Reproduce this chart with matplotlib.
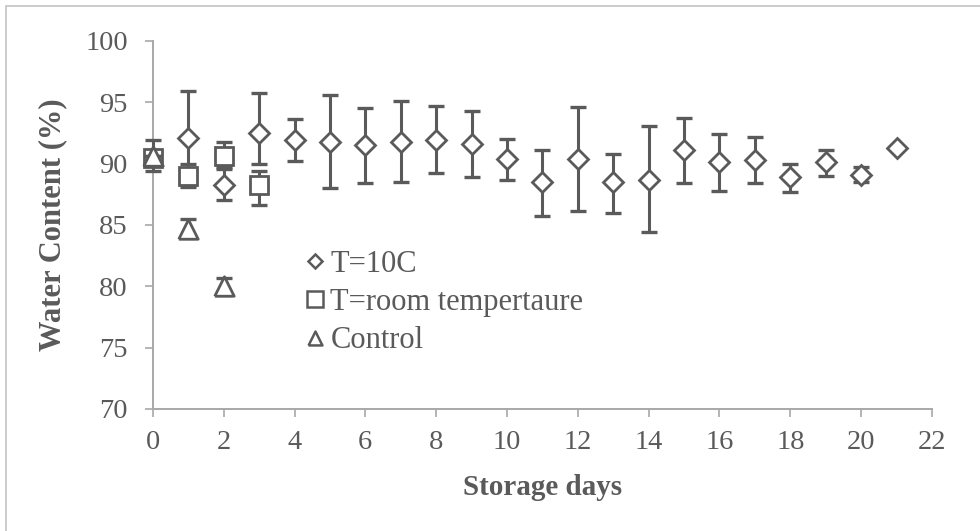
import matplotlib
matplotlib.use("Agg")
import matplotlib.pyplot as plt
from matplotlib.lines import Line2D
from matplotlib.patches import Rectangle

# T=10C series (diamonds)
days_10c = [1, 2, 3, 4, 5, 6, 7, 8, 9, 10, 11, 12, 13, 14, 15, 16, 17, 18, 19, 20, 21]
wc_10c = [92.1, 88.3, 92.5, 91.9, 91.8, 91.5, 91.8, 91.9, 91.6, 90.4, 88.5, 90.4,
          88.5, 88.7, 91.1, 90.1, 90.3, 88.9, 90.1, 89.1, 91.3]
hi_10c = [95.9, 89.6, 95.8, 93.6, 95.6, 94.5, 95.1, 94.7, 94.3, 92.0, 91.1, 94.6,
          90.8, 93.1, 93.7, 92.4, 92.2, 90.0, 91.1, 89.7, 91.3]
lo_10c = [88.3, 87.0, 90.0, 90.2, 88.0, 88.4, 88.5, 89.2, 88.9, 88.7, 85.7, 86.1,
          86.0, 84.4, 88.4, 87.8, 88.4, 87.7, 89.0, 88.5, 91.3]

# T=room temperature series (squares)
days_room = [0, 1, 2, 3]
wc_room = [90.5, 89.0, 90.6, 88.3]
hi_room = [91.9, 90.0, 91.8, 89.4]
lo_room = [89.4, 88.1, 89.7, 86.6]

# Control series (triangles)
days_ctrl = [0, 1, 2]
wc_ctrl = [90.6, 84.7, 80.0]
hi_ctrl = [90.6, 85.5, 80.7]
lo_ctrl = [90.6, 83.9, 79.3]

x_ticks = [0, 2, 4, 6, 8, 10, 12, 14, 16, 18, 20, 22]
y_ticks = [70, 75, 80, 85, 90, 95, 100]

gray = "#5a5a5a"
bg = "white"
tri = [(-1, -1), (1, -1), (0, 1), (-1, -1)]

plt.rcParams["font.family"] = ["Liberation Serif", "DejaVu Serif"]

fig = plt.figure(figsize=(9.8, 5.31), dpi=100, facecolor=bg)
ax = fig.add_axes([0.156, 0.2298, 0.795, 0.693], facecolor=bg)

# outer chart-area border
fig.patches.append(Rectangle((6 / 980, -0.02), 1.02, 1 - 6 / 531 + 0.02,
                             transform=fig.transFigure, fill=False,
                             edgecolor="#c4c4c4", linewidth=1.2))


def series(x, y, hi, lo, marker, ms, z):
    err = [[v - l for v, l in zip(y, lo)], [h - v for v, h in zip(y, hi)]]
    bars = ax.errorbar(x, y, yerr=err, fmt="none", ecolor=gray, elinewidth=2.2,
                       capsize=6, capthick=2.4, zorder=z)
    for art in bars.lines[1] + bars.lines[2]:
        art.set_clip_on(False)
    ax.plot(x, y, linestyle="none", marker=marker, markersize=ms,
            markerfacecolor=bg, markeredgecolor=gray, markeredgewidth=2.0,
            zorder=z + 0.5, clip_on=False)


series(days_10c, wc_10c, hi_10c, lo_10c, "D", 10, 3)
series(days_room, wc_room, hi_room, lo_room, "s", 12.5, 4)
series(days_ctrl, wc_ctrl, hi_ctrl, lo_ctrl, tri, 14, 5)

ax.set_xlim(0, 22)
ax.set_ylim(70, 100)
ax.set_xticks(x_ticks)
ax.set_yticks(y_ticks)
ax.tick_params(axis="both", direction="out", length=6, width=1.2,
               color="#a8a8a8", labelcolor=gray, labelsize=20.5)
ax.tick_params(axis="y", pad=12)
ax.tick_params(axis="x", pad=9)

for s in ["top", "right"]:
    ax.spines[s].set_visible(False)
for s in ["left", "bottom"]:
    ax.spines[s].set_color("#a8a8a8")
    ax.spines[s].set_linewidth(1.4)

ax.set_xlabel("Storage days", fontsize=21, fontweight="bold", color=gray, labelpad=14)
ax.set_ylabel("Water Content (%)", fontsize=22, fontweight="bold", color=gray, labelpad=13)

handles = [
    Line2D([], [], linestyle="none", marker="D", markersize=7, markerfacecolor=bg,
           markeredgecolor=gray, markeredgewidth=1.8),
    Line2D([], [], linestyle="none", marker="s", markersize=11, markerfacecolor=bg,
           markeredgecolor=gray, markeredgewidth=1.8),
    Line2D([], [], linestyle="none", marker=tri, markersize=10, markerfacecolor=bg,
           markeredgecolor=gray, markeredgewidth=1.8),
]
labels = ["T=10C", "T=room tempertaure", "Control"]
leg = ax.legend(handles, labels, loc="upper left", bbox_to_anchor=(306 / 980, 1 - 250 / 531),
                bbox_transform=fig.transFigure, frameon=False, fontsize=22,
                handlelength=0.6, handletextpad=0.2, labelspacing=0.3,
                borderpad=0, borderaxespad=0)
for t in leg.get_texts():
    t.set_color(gray)

fig.savefig("out.png", dpi=100, facecolor=bg)
